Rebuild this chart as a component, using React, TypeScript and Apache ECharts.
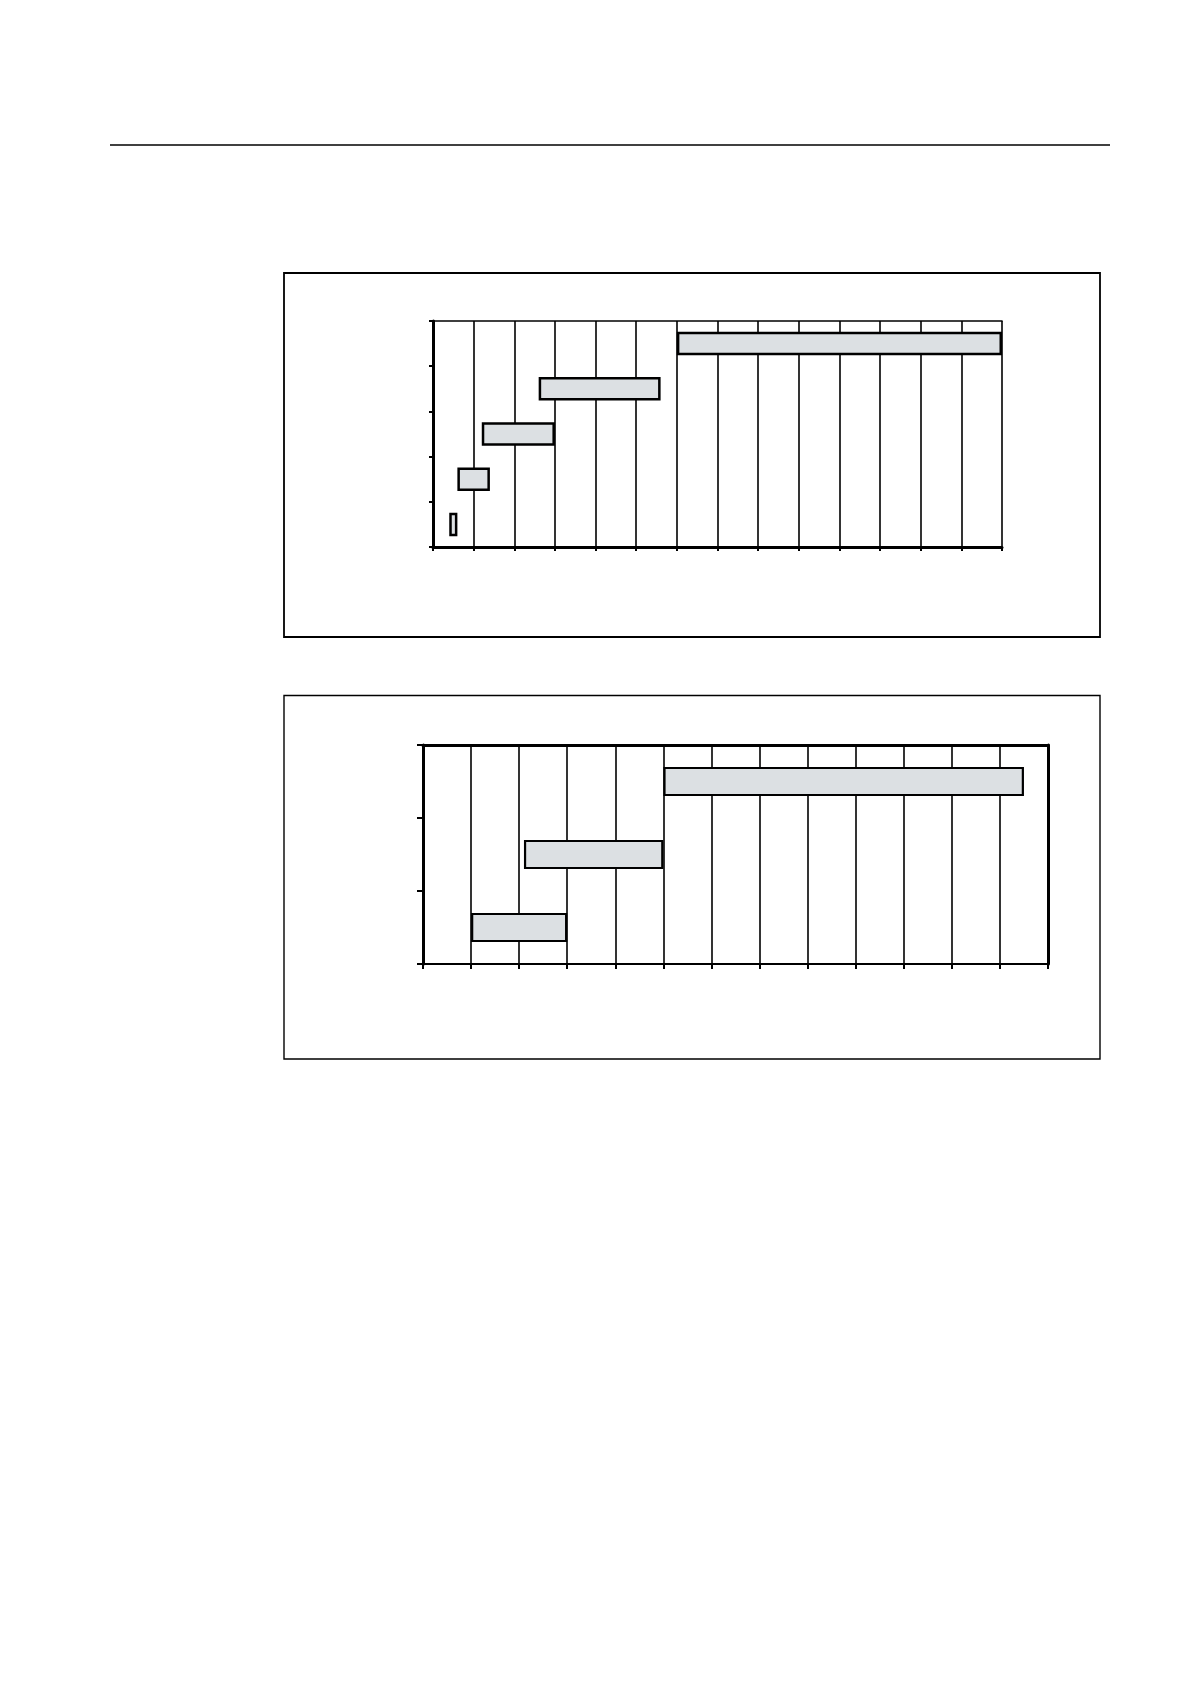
import { useEffect, useRef } from "react";
import * as echarts from "echarts";

// upper chart: five rows, time axis 0..14
const UPPER_ROWS = ["1", "2", "3", "4", "5"];
const UPPER_START = [0.4, 0.6, 1.2, 2.6, 6];
const UPPER_END = [0.6, 1.4, 3.0, 5.6, 14];
const UPPER_MAX = 14;

// lower chart: three rows, time axis 0..13
const LOWER_ROWS = ["1", "2", "3"];
const LOWER_START = [1, 2.1, 5];
const LOWER_END = [3, 5, 12.5];
const LOWER_MAX = 13;

const BAR_FILL = "#dce0e3";
const INK = "#000";

function spans(start: number[], end: number[]) {
  return end.map((value, index) => Number((value - start[index]).toFixed(2)));
}

function valueAxis(gridIndex: number, max: number, lineWidth: number, tickLength: number) {
  return {
    type: "value",
    gridIndex,
    min: 0,
    max,
    interval: 1,
    position: "bottom",
    axisLine: { show: true, onZero: false, lineStyle: { color: INK, width: lineWidth } },
    axisTick: { show: true, length: tickLength, lineStyle: { color: INK, width: 2 } },
    axisLabel: { show: false },
    splitLine: { show: true, lineStyle: { color: INK, width: 1.6 } },
  };
}

function borderXAxis(gridIndex: number, max: number, lineWidth: number) {
  return {
    type: "value",
    gridIndex,
    min: 0,
    max,
    position: "top",
    axisLine: { show: true, onZero: false, lineStyle: { color: INK, width: lineWidth } },
    axisTick: { show: false },
    axisLabel: { show: false },
    splitLine: { show: false },
  };
}

function rowAxis(gridIndex: number, rows: string[], lineWidth: number, tickLength: number) {
  return {
    type: "category",
    gridIndex,
    data: rows,
    position: "left",
    axisLine: { show: true, onZero: false, lineStyle: { color: INK, width: lineWidth } },
    axisTick: { show: true, length: tickLength, interval: 0, lineStyle: { color: INK, width: 2 } },
    axisLabel: { show: false },
    splitLine: { show: false },
  };
}

function ganttSeries(
  stack: string,
  xAxisIndex: number,
  yAxisIndex: number,
  start: number[],
  end: number[],
  barWidth: string,
  borderWidth: number,
) {
  return [
    {
      type: "bar",
      stack,
      xAxisIndex,
      yAxisIndex,
      data: start,
      barWidth,
      silent: true,
      itemStyle: { color: "transparent", borderWidth: 0 },
      z: 3,
    },
    {
      type: "bar",
      stack,
      xAxisIndex,
      yAxisIndex,
      data: spans(start, end),
      barWidth,
      silent: true,
      itemStyle: { color: BAR_FILL, borderColor: INK, borderWidth },
      z: 3,
    },
  ];
}

function frame(x: number, y: number, width: number, height: number, lineWidth: number) {
  return {
    type: "rect",
    silent: true,
    shape: { x, y, width, height },
    style: { fill: "none", stroke: INK, lineWidth },
    z: 0,
  };
}

export default function App() {
  const rootRef = useRef<HTMLDivElement | null>(null);

  useEffect(() => {
    if (!rootRef.current) {
      return;
    }
    const chart = echarts.init(rootRef.current, undefined, { renderer: "svg" });

    chart.setOption({
      animation: false,
      backgroundColor: "#fff",
      grid: [
        { left: 433, top: 321, width: 569, height: 226, containLabel: false },
        { left: 423, top: 745, width: 625, height: 219, containLabel: false },
      ],
      xAxis: [
        valueAxis(0, UPPER_MAX, 3, 4),
        borderXAxis(0, UPPER_MAX, 1.6),
        valueAxis(1, LOWER_MAX, 2, 5),
        borderXAxis(1, LOWER_MAX, 3),
      ],
      yAxis: [
        rowAxis(0, UPPER_ROWS, 3, 4),
        rowAxis(1, LOWER_ROWS, 3, 6),
        {
          type: "category",
          gridIndex: 1,
          data: LOWER_ROWS,
          position: "right",
          axisLine: { show: true, onZero: false, lineStyle: { color: INK, width: 3 } },
          axisTick: { show: false },
          axisLabel: { show: false },
          splitLine: { show: false },
        },
      ],
      series: [
        ...ganttSeries("upper", 0, 0, UPPER_START, UPPER_END, "52%", 2.5),
        ...ganttSeries("lower", 2, 1, LOWER_START, LOWER_END, "40%", 2.2),
      ],
      graphic: [
        {
          type: "line",
          silent: true,
          shape: { x1: 110, y1: 145, x2: 1110, y2: 145 },
          style: { stroke: INK, lineWidth: 1.6 },
        },
        frame(284, 273, 816, 364, 1.8),
        frame(284, 695.5, 816, 363.5, 1.4),
      ],
    });

    return () => {
      chart.dispose();
    };
  }, []);

  return (
    <div
      ref={rootRef}
      style={{ position: "absolute", left: 0, top: 0, width: 1190, height: 1684, background: "#fff" }}
    />
  );
}
